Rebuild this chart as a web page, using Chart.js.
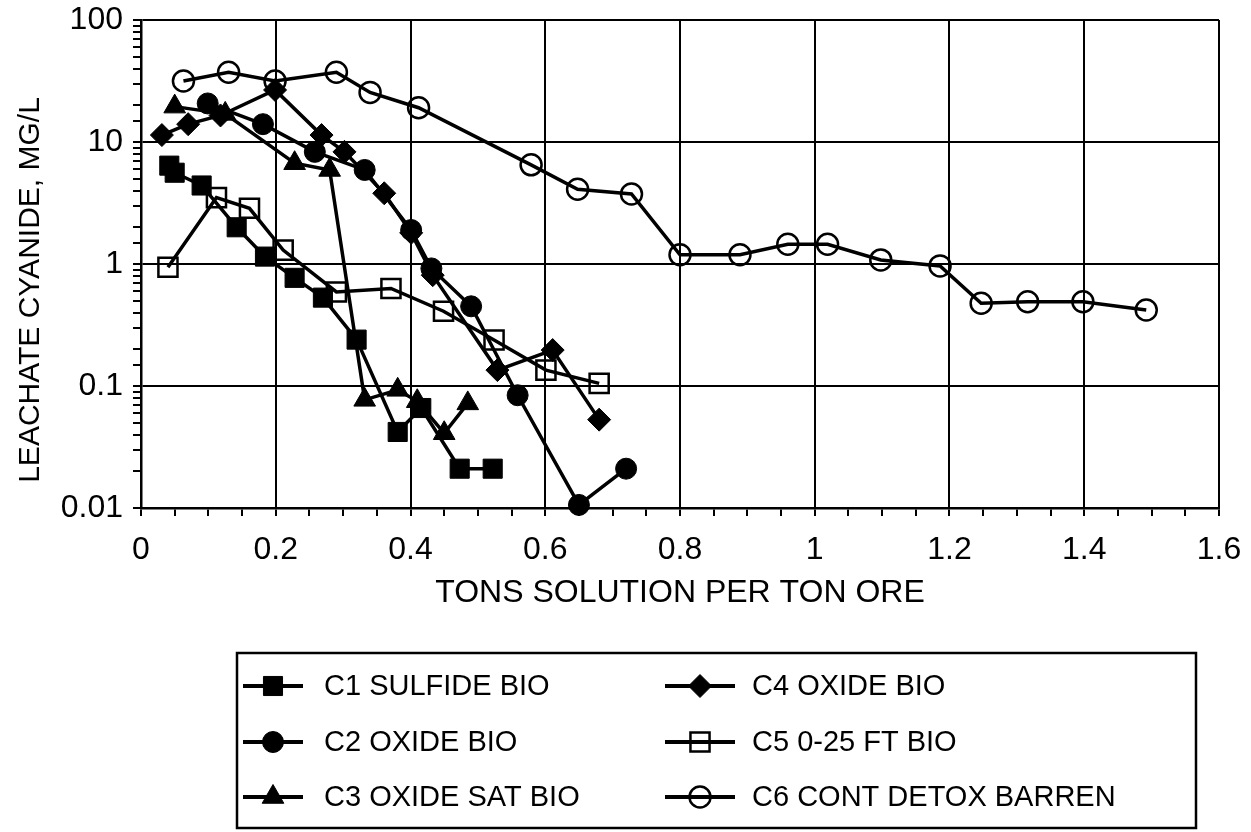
<!DOCTYPE html>
<html><head><meta charset="utf-8">
<script src="https://cdn.jsdelivr.net/npm/chart.js@4.4.1/dist/chart.umd.min.js"></script>
<style>html,body{margin:0;padding:0;background:#fff;}canvas{display:block;}</style>
</head><body>
<canvas id="c" width="1251" height="832"></canvas>
<script>
const seriesNames = ['C1 SULFIDE BIO','C2 OXIDE BIO','C3 OXIDE SAT BIO','C4 OXIDE BIO','C5 0-25 FT BIO','C6 CONT DETOX BARREN'];

const c1X = [0.042,0.050,0.090,0.142,0.184,0.228,0.270,0.320,0.381,0.416,0.473,0.522];
const c1Y = [6.4,5.6,4.4,2.0,1.15,0.77,0.53,0.24,0.042,0.066,0.021,0.021];

const c2X = [0.099,0.181,0.258,0.332,0.401,0.431,0.490,0.559,0.650,0.720];
const c2Y = [20.7,14,8.3,5.9,1.9,0.92,0.45,0.084,0.0106,0.021];

const c3X = [0.050,0.125,0.228,0.280,0.332,0.381,0.410,0.450,0.485];
const c3Y = [19.5,17,6.7,5.9,0.077,0.093,0.075,0.041,0.072];

const c4X = [0.031,0.070,0.118,0.199,0.268,0.302,0.361,0.401,0.433,0.529,0.611,0.680];
const c4Y = [11.4,14,16.5,26.7,11.4,8.3,3.8,1.8,0.81,0.135,0.197,0.053];

const c5X = [0.040,0.112,0.161,0.211,0.290,0.371,0.449,0.524,0.601,0.680];
const c5Y = [0.94,3.5,2.86,1.30,0.59,0.63,0.41,0.238,0.135,0.105];

const c6X = [0.063,0.130,0.199,0.290,0.340,0.412,0.579,0.648,0.728,0.800,0.889,0.960,1.019,1.098,1.186,1.247,1.316,1.398,1.492];
const c6Y = [31.6,37.3,31.6,37.3,25.5,19.1,6.5,4.1,3.75,1.19,1.19,1.45,1.45,1.08,0.965,0.477,0.49,0.49,0.42];

const xTickLabels = ['0','0.2','0.4','0.6','0.8','1','1.2','1.4','1.6'];
const yTickLabels = ['0.01','0.1','1','10','100'];
const xTitle = 'TONS SOLUTION PER TON ORE';
const yTitle = 'LEACHATE CYANIDE, MG/L';

const FONT = '"Liberation Sans", Arial, Helvetica, sans-serif';
const pts = (xs, ys) => xs.map((x, i) => ({x: x, y: ys[i]}));

const markerStyles = [
  {style: 'rect', r: 13.5, fill: true},
  {style: 'circle', r: 10.5, fill: true},
  {style: 'triangle', r: 12.5, fill: true},
  {style: 'rectRot', r: 11.5, fill: true},
  {style: 'rect', r: 13.5, fill: false},
  {style: 'circle', r: 10.5, fill: false}
];
const allData = [pts(c1X,c1Y), pts(c2X,c2Y), pts(c3X,c3Y), pts(c4X,c4Y), pts(c5X,c5Y), pts(c6X,c6Y)];

const datasets = allData.map((d, i) => ({
  label: seriesNames[i],
  data: d,
  showLine: true,
  borderColor: '#000',
  borderWidth: 3.5,
  tension: 0,
  fill: false,
  clip: false,
  pointStyle: markerStyles[i].style,
  pointRadius: markerStyles[i].r,
  pointHoverRadius: markerStyles[i].r,
  pointBackgroundColor: markerStyles[i].fill ? '#000' : 'rgba(0,0,0,0)',
  pointBorderColor: '#000',
  pointBorderWidth: markerStyles[i].fill ? 1 : 2.5
}));

function drawMarker(ctx, m, x, y) {
  ctx.save();
  ctx.beginPath();
  const r = m.r;
  if (m.style === 'rect') {
    const s = r * Math.SQRT1_2;
    ctx.rect(x - s, y - s, 2 * s, 2 * s);
  } else if (m.style === 'circle') {
    ctx.arc(x, y, r, 0, Math.PI * 2);
  } else if (m.style === 'triangle') {
    ctx.moveTo(x, y - r);
    ctx.lineTo(x + r * Math.sin(Math.PI * 2 / 3), y + r / 2);
    ctx.lineTo(x - r * Math.sin(Math.PI * 2 / 3), y + r / 2);
    ctx.closePath();
  } else if (m.style === 'rectRot') {
    ctx.moveTo(x, y - r); ctx.lineTo(x + r, y); ctx.lineTo(x, y + r); ctx.lineTo(x - r, y); ctx.closePath();
  }
  if (m.fill) { ctx.fillStyle = '#000'; ctx.fill(); }
  ctx.strokeStyle = '#000';
  ctx.lineWidth = m.fill ? 1 : 2.5;
  ctx.stroke();
  ctx.restore();
}

const extrasPlugin = {
  id: 'extras',
  afterDraw(chart) {
    const ctx = chart.ctx;
    // y axis title
    ctx.save();
    ctx.translate(31, 290);
    ctx.rotate(-Math.PI / 2);
    ctx.fillStyle = '#000';
    ctx.font = '30px ' + FONT;
    ctx.textAlign = 'center';
    ctx.textBaseline = 'middle';
    ctx.fillText(yTitle, 0, 0);
    ctx.restore();
    // legend box
    ctx.save();
    ctx.strokeStyle = '#000';
    ctx.lineWidth = 2.5;
    ctx.strokeRect(237, 653, 959, 175);
    const cols = [{l0: 243, l1: 303, mx: 273, tx: 324}, {l0: 665, l1: 735, mx: 700, tx: 752}];
    const rows = [686, 742, 797];
    ctx.font = '29px ' + FONT;
    ctx.textBaseline = 'middle';
    ctx.textAlign = 'left';
    ctx.fillStyle = '#000';
    for (let i = 0; i < 6; i++) {
      const c = cols[Math.floor(i / 3)];
      const y = rows[i % 3];
      ctx.beginPath();
      ctx.lineWidth = 4;
      ctx.moveTo(c.l0, y); ctx.lineTo(c.l1, y);
      ctx.stroke();
      drawMarker(ctx, markerStyles[i], c.mx, y);
      ctx.fillText(seriesNames[i], c.tx, y + 1);
    }
    ctx.restore();
  }
};

const isMajorX = v => Math.abs(v * 5 - Math.round(v * 5)) < 1e-6;
const isMajorY = v => { const l = Math.log10(v); return Math.abs(l - Math.round(l)) < 1e-6; };

new Chart(document.getElementById('c'), {
  type: 'line',
  data: {datasets: datasets},
  options: {
    responsive: false,
    animation: false,
    devicePixelRatio: 1,
    layout: {padding: {left: 0, right: 0, top: 0, bottom: 220}},
    plugins: {legend: {display: false}, tooltip: {enabled: false}},
    scales: {
      x: {
        type: 'linear',
        min: 0, max: 1.6,
        afterFit: s => { s.height = 104; s.paddingLeft = 0; s.paddingRight = 32; },
        border: {color: '#000', width: 2.5},
        grid: {
          color: ctx => (ctx.tick && isMajorX(ctx.tick.value)) ? '#000' : 'rgba(0,0,0,0)',
          tickColor: '#000',
          lineWidth: 2,
          tickLength: 8
        },
        ticks: {
          stepSize: 0.05,
          autoSkip: false,
          maxRotation: 0, minRotation: 0,
          color: '#000',
          padding: 15,
          font: {family: FONT, size: 32},
          callback: v => isMajorX(v) ? xTickLabels[Math.round(v / 0.2)] : ''
        },
        title: {display: true, text: xTitle, color: '#000', font: {family: FONT, size: 32}, padding: {top: 0, bottom: 0}}
      },
      y: {
        type: 'logarithmic',
        min: 0.01, max: 100,
        afterFit: s => { s.width = 141; s.paddingTop = 20; s.paddingBottom = 0; },
        border: {color: '#000', width: 2.5},
        grid: {
          color: ctx => (ctx.tick && isMajorY(ctx.tick.value)) ? '#000' : 'rgba(0,0,0,0)',
          tickColor: '#000',
          lineWidth: 2,
          tickLength: 8
        },
        ticks: {
          autoSkip: false,
          color: '#000',
          padding: 10,
          font: {family: FONT, size: 32},
          callback: v => isMajorY(v) ? yTickLabels[Math.round(Math.log10(v)) + 2] : ''
        }
      }
    }
  },
  plugins: [extrasPlugin]
});
</script>
</body></html>
